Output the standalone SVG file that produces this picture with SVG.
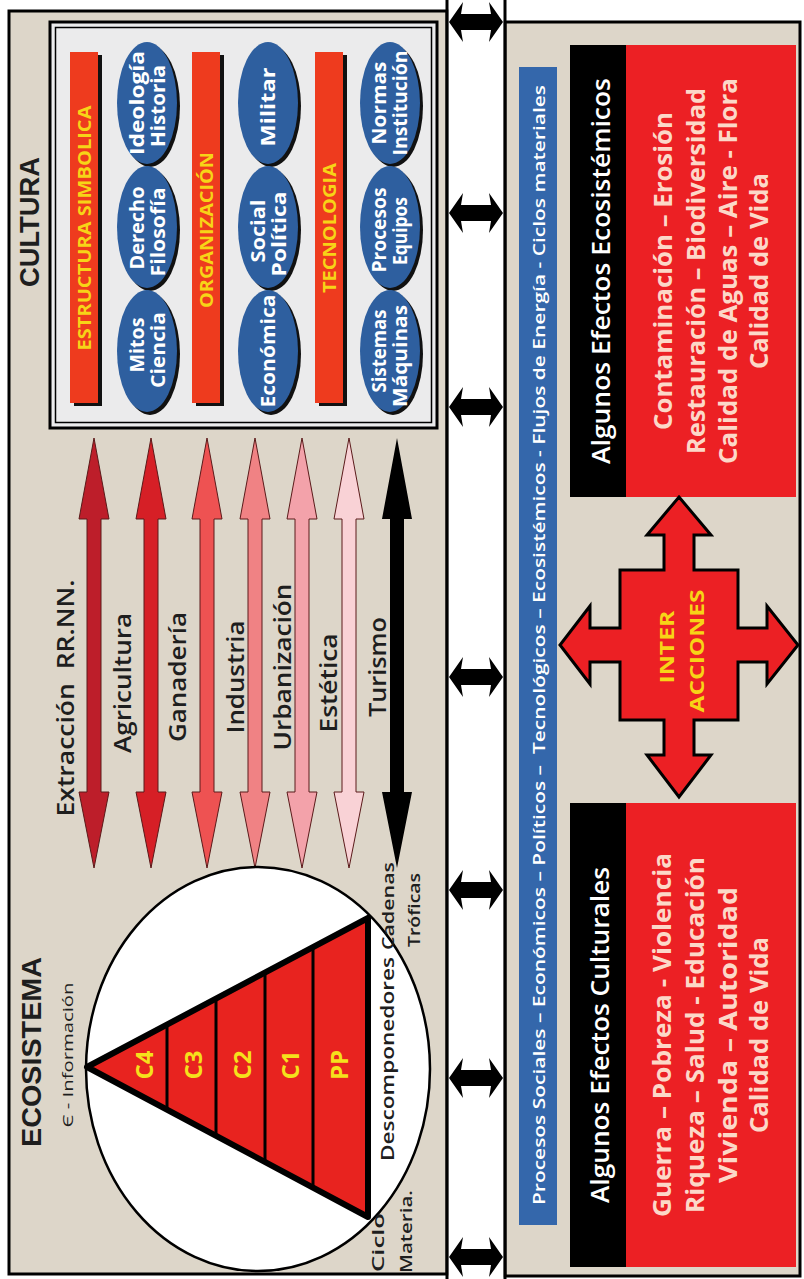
<svg xmlns="http://www.w3.org/2000/svg" width="804" height="1279" viewBox="0 0 804 1279">
<style>
text{font-family:"Open Sans","Noto Sans","Liberation Sans",sans-serif;text-anchor:middle;dominant-baseline:central}
.ttl{font-family:"Liberation Sans",Arial,sans-serif;font-weight:700;font-size:27px;fill:#1e1e1e}
.lbl{font-weight:600;font-size:23px;fill:#1e1e1e}
.sm{font-weight:600;font-size:17px;fill:#1e1e1e}
.bar{fill:#ee3b1e}
.bartx{font-weight:700;font-size:17px;fill:#f7d417}
.ell{fill:#2e5f9f}
.sh{fill:#111}
.elltx{font-weight:700;font-size:19px;fill:#fff}
.tri{font-weight:700;font-size:24px;fill:#f5e11c}
.hdr{font-weight:600;font-size:26px;fill:#fff}
.eff{font-weight:700;font-size:25px;fill:#fcd8c8}
.mid{fill:#000}
.va{stroke:#5a1a1a;stroke-width:1}
</style>

<!-- backgrounds -->
<rect x="0" y="0" width="804" height="1279" fill="#fff"/>
<g id="panel-left">
<rect x="9" y="11" width="438" height="1263" fill="#ddd6c9" stroke="#000" stroke-width="3"/>
</g>
<g id="panel-right">
<rect x="505" y="22" width="295" height="1254" fill="#ddd6c9" stroke="#000" stroke-width="3"/>
</g>

<!-- CULTURA -->
<g id="cultura-box">
<rect x="50" y="22" width="387" height="406" fill="#ebebec" stroke="#000" stroke-width="3"/>
<rect x="55.5" y="27.5" width="376" height="395" fill="none" stroke="#000" stroke-width="1.5"/>
</g>
<g id="cultura-title"><text class="ttl" transform="translate(30,222) rotate(-90)" textLength="130" lengthAdjust="spacingAndGlyphs">CULTURA</text></g>

<g id="bar-estructura">
<rect class="sh" x="74" y="55" width="28" height="351"/>
<rect class="bar" x="70" y="52" width="28" height="351"/>
<text class="bartx" transform="translate(84,228) rotate(-90)" textLength="245" lengthAdjust="spacingAndGlyphs">ESTRUCTURA SIMBOLICA</text>
</g>
<g id="bar-organizacion">
<rect class="sh" x="196" y="55" width="28" height="351"/>
<rect class="bar" x="192" y="52" width="28" height="351"/>
<text class="bartx" transform="translate(206,230) rotate(-90)" textLength="156" lengthAdjust="spacingAndGlyphs">ORGANIZACIÓN</text>
</g>
<g id="bar-tecnologia">
<rect class="sh" x="319" y="55" width="28" height="351"/>
<rect class="bar" x="315" y="52" width="28" height="351"/>
<text class="bartx" transform="translate(329,228) rotate(-90)" textLength="130" lengthAdjust="spacingAndGlyphs">TECNOLOGIA</text>
</g>

<g id="e-ideologia"><ellipse class="sh" cx="150" cy="106" rx="30" ry="61"/><ellipse class="ell" cx="147" cy="103" rx="30" ry="61"/>
<text class="elltx" transform="translate(137,103) rotate(-90)" textLength="104" lengthAdjust="spacingAndGlyphs">Ideología</text><text class="elltx" transform="translate(158,106) rotate(-90)" textLength="82" lengthAdjust="spacingAndGlyphs">Historia</text></g>
<g id="e-derecho"><ellipse class="sh" cx="150" cy="230" rx="30" ry="61"/><ellipse class="ell" cx="147" cy="227" rx="30" ry="61"/>
<text class="elltx" transform="translate(137,228) rotate(-90)" textLength="83" lengthAdjust="spacingAndGlyphs">Derecho</text><text class="elltx" transform="translate(158,232) rotate(-90)" textLength="89" lengthAdjust="spacingAndGlyphs">Filosofía</text></g>
<g id="e-mitos"><ellipse class="sh" cx="150" cy="354" rx="30" ry="61"/><ellipse class="ell" cx="147" cy="351" rx="30" ry="61"/>
<text class="elltx" transform="translate(137,345) rotate(-90)" textLength="55" lengthAdjust="spacingAndGlyphs">Mitos</text><text class="elltx" transform="translate(158,350) rotate(-90)" textLength="76" lengthAdjust="spacingAndGlyphs">Ciencia</text></g>

<g id="e-militar"><ellipse class="sh" cx="271" cy="106" rx="30" ry="61"/><ellipse class="ell" cx="268" cy="103" rx="30" ry="61"/>
<text class="elltx" transform="translate(268,107) rotate(-90)" textLength="79" lengthAdjust="spacingAndGlyphs">Militar</text></g>
<g id="e-social"><ellipse class="sh" cx="271" cy="230" rx="30" ry="61"/><ellipse class="ell" cx="268" cy="227" rx="30" ry="61"/>
<text class="elltx" transform="translate(258,231) rotate(-90)" textLength="63" lengthAdjust="spacingAndGlyphs">Social</text><text class="elltx" transform="translate(279,234) rotate(-90)" textLength="85" lengthAdjust="spacingAndGlyphs">Política</text></g>
<g id="e-economica"><ellipse class="sh" cx="271" cy="354" rx="30" ry="61"/><ellipse class="ell" cx="268" cy="351" rx="30" ry="61"/>
<text class="elltx" transform="translate(268,351) rotate(-90)" textLength="113" lengthAdjust="spacingAndGlyphs">Económica</text></g>

<g id="e-normas"><ellipse class="sh" cx="393" cy="106" rx="30" ry="61"/><ellipse class="ell" cx="390" cy="103" rx="30" ry="61"/>
<text class="elltx" transform="translate(379,103) rotate(-90)" textLength="83" lengthAdjust="spacingAndGlyphs">Normas</text><text class="elltx" transform="translate(400,103) rotate(-90)" textLength="105" lengthAdjust="spacingAndGlyphs">Institución</text></g>
<g id="e-procesos"><ellipse class="sh" cx="393" cy="230" rx="30" ry="61"/><ellipse class="ell" cx="390" cy="227" rx="30" ry="61"/>
<text class="elltx" transform="translate(379,230) rotate(-90)" textLength="85" lengthAdjust="spacingAndGlyphs">Procesos</text><text class="elltx" transform="translate(400,231) rotate(-90)" textLength="68" lengthAdjust="spacingAndGlyphs">Equipos</text></g>
<g id="e-sistemas"><ellipse class="sh" cx="393" cy="354" rx="30" ry="61"/><ellipse class="ell" cx="390" cy="351" rx="30" ry="61"/>
<text class="elltx" transform="translate(379,351) rotate(-90)" textLength="83" lengthAdjust="spacingAndGlyphs">Sistemas</text><text class="elltx" transform="translate(400,356) rotate(-90)" textLength="102" lengthAdjust="spacingAndGlyphs">Máquinas</text></g>

<!-- vertical double arrows (connectors) -->
<g id="connectors">
<polygon class="va" fill="#bd1e2a" points="94,438 109,519 101,519 101,792 109,792 94,868 79,792 87,792 87,519 79,519"/>
<polygon class="va" fill="#d61f26" points="151,438 166,519 158,519 158,792 166,792 151,868 136,792 144,792 144,519 136,519"/>
<polygon class="va" fill="#ee5252" points="207,438 222,519 214,519 214,792 222,792 207,868 192,792 200,792 200,519 192,519"/>
<polygon class="va" fill="#f08284" points="255,438 270,519 262,519 262,792 270,792 255,868 240,792 248,792 248,519 240,519"/>
<polygon class="va" fill="#f3a2aa" points="302,438 317,519 309,519 309,792 317,792 302,868 287,792 295,792 295,519 287,519"/>
<polygon class="va" fill="#f9d2d6" points="349,438 364,519 356,519 356,792 364,792 349,868 334,792 342,792 342,519 334,519"/>
<polygon fill="#000" points="397,438 412,519 404,519 404,792 412,792 397,868 382,792 390,792 390,519 382,519"/>

<!-- middle column -->
<rect x="448.5" y="0" width="55" height="1279" fill="#fff"/>
<line x1="447" y1="0" x2="447" y2="1279" stroke="#000" stroke-width="3"/>
<line x1="505" y1="0" x2="505" y2="1279" stroke="#000" stroke-width="3"/>
<polygon class="mid" points="449,22 463,2 461,14 491,14 489,2 503,22 489,42 491,30 461,30 463,42"/>
<polygon class="mid" points="449,213 463,193 461,205 491,205 489,193 503,213 489,233 491,221 461,221 463,233"/>
<polygon class="mid" points="449,407 463,387 461,399 491,399 489,387 503,407 489,427 491,415 461,415 463,427"/>
<polygon class="mid" points="449,677 463,657 461,669 491,669 489,657 503,677 489,697 491,685 461,685 463,697"/>
<polygon class="mid" points="449,890 463,870 461,882 491,882 489,870 503,890 489,910 491,898 461,898 463,910"/>
<polygon class="mid" points="449,1078 463,1058 461,1070 491,1070 489,1058 503,1078 489,1098 491,1086 461,1086 463,1098"/>
<polygon class="mid" points="449,1257 463,1237 461,1249 491,1249 489,1237 503,1257 489,1277 491,1265 461,1265 463,1277"/>
</g>

<!-- arrow labels -->
<g id="labels-actividades">
<text class="lbl" transform="translate(65,698) rotate(-90)" textLength="237" lengthAdjust="spacingAndGlyphs">Extracción&#160; RR.NN.</text>
<text class="lbl" transform="translate(122,683) rotate(-90)" textLength="140" lengthAdjust="spacingAndGlyphs">Agricultura</text>
<text class="lbl" transform="translate(177,677) rotate(-90)" textLength="130" lengthAdjust="spacingAndGlyphs">Ganadería</text>
<text class="lbl" transform="translate(235,677) rotate(-90)" textLength="113" lengthAdjust="spacingAndGlyphs">Industria</text>
<text class="lbl" transform="translate(282,667) rotate(-90)" textLength="167" lengthAdjust="spacingAndGlyphs">Urbanización</text>
<text class="lbl" transform="translate(328,683) rotate(-90)" textLength="99" lengthAdjust="spacingAndGlyphs">Estética</text>
<text class="lbl" transform="translate(377,667) rotate(-90)" textLength="100" lengthAdjust="spacingAndGlyphs">Turismo</text>
</g>

<!-- ECOSISTEMA -->
<g id="ecosistema">
<ellipse cx="258" cy="1069" rx="172" ry="202" fill="#fff" stroke="#000" stroke-width="2.5"/>
<polygon points="87,1067 368,918 368,1217" fill="#e8231f" stroke="#000" stroke-width="6" stroke-linejoin="round"/>
<line x1="167" y1="1025" x2="167" y2="1110" stroke="#000" stroke-width="3"/>
<line x1="216" y1="999" x2="216" y2="1136" stroke="#000" stroke-width="3"/>
<line x1="265" y1="973" x2="265" y2="1162" stroke="#000" stroke-width="3"/>
<line x1="313" y1="947" x2="313" y2="1188" stroke="#000" stroke-width="3"/>
<text class="tri" transform="translate(143,1065) rotate(-90)">C4</text>
<text class="tri" transform="translate(192,1065) rotate(-90)">C3</text>
<text class="tri" transform="translate(241,1065) rotate(-90)">C2</text>
<text class="tri" transform="translate(289,1065) rotate(-90)">C1</text>
<text class="tri" transform="translate(338,1065) rotate(-90)">PP</text>
</g>
<g id="ecosistema-title"><text class="ttl" transform="translate(32,1052) rotate(-90)" textLength="190" lengthAdjust="spacingAndGlyphs">ECOSISTEMA</text></g>
<g id="eco-labels">
<text style="font-size:15px;fill:#1e1e1e" transform="translate(67,1055) rotate(-90)" textLength="145" lengthAdjust="spacingAndGlyphs">Є - Información</text>
<text class="sm" style="font-size:18px" transform="translate(387,1059) rotate(-90)" textLength="204" lengthAdjust="spacingAndGlyphs">Descomponedores</text>
<text class="sm" style="text-anchor:start" transform="translate(377,1272) rotate(-90)" textLength="59" lengthAdjust="spacingAndGlyphs">Ciclo</text>
<text class="sm" style="text-anchor:start" transform="translate(405,1273) rotate(-90)" textLength="83" lengthAdjust="spacingAndGlyphs">Materia.</text>
<text class="sm" style="text-anchor:start" transform="translate(387,950) rotate(-90)" textLength="88" lengthAdjust="spacingAndGlyphs">Cadenas</text>
<text class="sm" style="text-anchor:start" transform="translate(413,947) rotate(-90)" textLength="74" lengthAdjust="spacingAndGlyphs">Tróficas</text>
</g>

<!-- right panel -->
<g id="procesos-bar">
<rect x="519" y="67" width="38" height="1158" fill="#3467ab"/>
<text style="font-weight:600;font-size:17px;fill:#fff" transform="translate(538,645) rotate(-90)" textLength="1120" lengthAdjust="spacingAndGlyphs">Procesos Sociales – Económicos – Políticos –&#160; Tecnológicos – Ecosistémicos - Flujos de Energía - Ciclos materiales</text>
</g>

<g id="efectos-ecosistemicos">
<rect x="570" y="45" width="56" height="452" fill="#000"/>
<rect x="626" y="45" width="170" height="452" fill="#ec2024"/>
<text class="hdr" transform="translate(600,271) rotate(-90)" textLength="386" lengthAdjust="spacingAndGlyphs">Algunos Efectos Ecosistémicos</text>
<text class="eff" transform="translate(662,271) rotate(-90)" textLength="318" lengthAdjust="spacingAndGlyphs">Contaminación – Erosión</text>
<text class="eff" transform="translate(695,271) rotate(-90)" textLength="366" lengthAdjust="spacingAndGlyphs">Restauración – Biodiversidad</text>
<text class="eff" transform="translate(727,271) rotate(-90)" textLength="386" lengthAdjust="spacingAndGlyphs">Calidad de Aguas – Aire - Flora</text>
<text class="eff" transform="translate(758,271) rotate(-90)" textLength="196" lengthAdjust="spacingAndGlyphs">Calidad de Vida</text>
</g>

<g id="interacciones">
<polygon fill="#ec2024" stroke="#000" stroke-width="3" stroke-linejoin="miter" points="679,497 711,535 694,535 694,570 738,570 738,628 767,628 767,606 798,645 767,684 767,662 738,662 738,720 694,720 694,755 711,755 679,797 647,755 664,755 664,720 620,720 620,662 590,662 590,684 560,645 590,606 590,628 620,628 620,570 664,570 664,535 647,535"/>
<text style="font-weight:700;font-size:19px;fill:#f7d417" transform="translate(667,647) rotate(-90)" textLength="73" lengthAdjust="spacingAndGlyphs">INTER</text>
<text style="font-weight:700;font-size:19px;fill:#f7d417" transform="translate(697,651) rotate(-90)" textLength="123" lengthAdjust="spacingAndGlyphs">ACCIONES</text>
</g>

<g id="efectos-culturales">
<rect x="570" y="803" width="56" height="464" fill="#000"/>
<rect x="626" y="803" width="170" height="464" fill="#ec2024"/>
<text class="hdr" transform="translate(599,1035) rotate(-90)" textLength="336" lengthAdjust="spacingAndGlyphs">Algunos Efectos Culturales</text>
<text class="eff" transform="translate(661,1035) rotate(-90)" textLength="364" lengthAdjust="spacingAndGlyphs">Guerra – Pobreza - Violencia</text>
<text class="eff" transform="translate(694,1035) rotate(-90)" textLength="356" lengthAdjust="spacingAndGlyphs">Riqueza – Salud - Educación</text>
<text class="eff" transform="translate(727,1035) rotate(-90)" textLength="296" lengthAdjust="spacingAndGlyphs">Vivienda – Autoridad</text>
<text class="eff" transform="translate(758,1035) rotate(-90)" textLength="196" lengthAdjust="spacingAndGlyphs">Calidad de Vida</text>
</g>
</svg>
